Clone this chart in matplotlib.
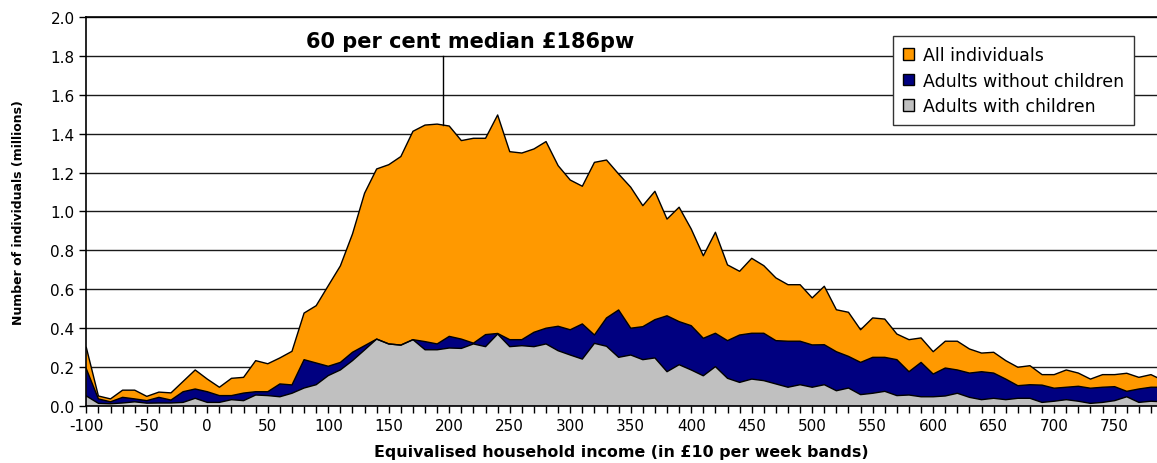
import numpy as np
import matplotlib
matplotlib.use("Agg")
import matplotlib.pyplot as plt
from matplotlib.patches import Patch

plt.rcParams['font.family'] = ['DejaVu Sans']
plt.rcParams['axes.unicode_minus'] = False

# Income bands (in £10 per week), -100 .. 790
bands = list(range(-100, 800, 10))

all_individuals = [
    0.30, 0.05, 0.035, 0.08, 0.08, 0.048, 0.07, 0.066, 0.125, 0.184,
    0.137, 0.095, 0.141, 0.146, 0.232, 0.216, 0.246, 0.28, 0.477, 0.515,
    0.618, 0.72, 0.884, 1.094, 1.219, 1.241, 1.283, 1.413, 1.445, 1.45,
    1.44, 1.365, 1.377, 1.377, 1.497, 1.308, 1.301, 1.322, 1.36, 1.236,
    1.162, 1.13, 1.253, 1.265, 1.193, 1.125, 1.03, 1.104, 0.961, 1.022,
    0.91, 0.772, 0.893, 0.725, 0.692, 0.759, 0.721, 0.658, 0.623, 0.623,
    0.555, 0.615, 0.494, 0.481, 0.391, 0.452, 0.446, 0.369, 0.34, 0.349,
    0.278, 0.332, 0.332, 0.292, 0.271, 0.275, 0.232, 0.198, 0.206, 0.16,
    0.16, 0.184, 0.168, 0.137, 0.16, 0.16, 0.167, 0.146, 0.16, 0.13,
]

adults_without_children = [
    0.19, 0.035, 0.02, 0.043, 0.035, 0.026, 0.043, 0.029, 0.072, 0.086,
    0.072, 0.052, 0.052, 0.065, 0.072, 0.072, 0.112, 0.107, 0.237, 0.22,
    0.203, 0.223, 0.275, 0.309, 0.343, 0.318, 0.312, 0.34, 0.33, 0.318,
    0.357, 0.343, 0.322, 0.366, 0.372, 0.34, 0.34, 0.378, 0.399, 0.409,
    0.391, 0.421, 0.364, 0.452, 0.493, 0.399, 0.407, 0.443, 0.463, 0.433,
    0.412, 0.347, 0.373, 0.335, 0.364, 0.373, 0.373, 0.335, 0.332, 0.332,
    0.313, 0.314, 0.278, 0.254, 0.223, 0.249, 0.249, 0.237, 0.175, 0.223,
    0.163, 0.194, 0.184, 0.168, 0.175, 0.168, 0.137, 0.103, 0.108, 0.106,
    0.09, 0.095, 0.1, 0.09, 0.095, 0.098, 0.074, 0.086, 0.095, 0.095,
]

adults_with_children = [
    0.05, 0.012, 0.01, 0.014, 0.02, 0.013, 0.014, 0.014, 0.017, 0.038,
    0.017, 0.017, 0.031, 0.026, 0.055, 0.052, 0.046, 0.064, 0.091, 0.108,
    0.155, 0.184, 0.232, 0.287, 0.343, 0.318, 0.312, 0.34, 0.288, 0.288,
    0.297, 0.295, 0.318, 0.304, 0.369, 0.304, 0.309, 0.304, 0.318, 0.283,
    0.261, 0.24, 0.321, 0.306, 0.249, 0.261, 0.237, 0.246, 0.175, 0.211,
    0.184, 0.154, 0.201, 0.141, 0.12, 0.137, 0.129, 0.112, 0.095, 0.108,
    0.095, 0.108, 0.077, 0.091, 0.057, 0.064, 0.074, 0.052, 0.055, 0.046,
    0.046, 0.05, 0.064, 0.043, 0.031, 0.038, 0.031, 0.038, 0.038, 0.017,
    0.023, 0.031, 0.023, 0.012, 0.017, 0.026, 0.046, 0.017, 0.023, 0.02,
]

series_labels = ["All individuals", "Adults without children", "Adults with children"]
series_colors = ["#FF9900", "#000080", "#C0C0C0"]

median_band = 195
median_label = "60 per cent median £186pw"

x = np.array(bands)
fig = plt.figure(figsize=(11.57, 4.64), dpi=100)
ax = fig.add_axes([0.0746, 0.1235, 0.9254, 0.8371])

for vals, col in zip([all_individuals, adults_without_children, adults_with_children], series_colors):
    ax.fill_between(x, 0, vals, facecolor=col, edgecolor='none', zorder=2)
    ax.plot(x, vals, color='black', lw=1.0, zorder=3)

ax.set_xlim(-100, 785)
ax.set_ylim(0, 2.0)
ax.set_yticks(np.arange(0, 2.01, 0.2))
ax.set_yticklabels([f"{v:.1f}" for v in np.arange(0, 2.01, 0.2)])
ax.set_xticks(np.arange(-100, 751, 50))
ax.set_xticks(np.arange(-100, 790, 10), minor=True)
ax.grid(axis='y', color='#1a1a1a', lw=1.0, zorder=1)
ax.set_axisbelow(True)

ax.tick_params(axis='both', which='both', direction='out', length=5, width=1, labelsize=11, color='black')
ax.tick_params(axis='x', which='minor', length=5)
ax.tick_params(axis='x', pad=4)

for s in ['top', 'right']:
    ax.spines[s].set_visible(False)
for s in ['left', 'bottom']:
    ax.spines[s].set_color('black')
    ax.spines[s].set_linewidth(1.2)
    ax.spines[s].set_zorder(5)
ax.axhline(2.0, color='black', lw=1.2, zorder=5, clip_on=False)

ax.set_xlabel("Equivalised household income (in £10 per week bands)", fontsize=11.4, fontweight='bold', labelpad=8)
ax.set_ylabel("Number of individuals (millions)", fontsize=9, fontweight='bold', labelpad=18)

y_med = np.interp(median_band, x, all_individuals)
ax.plot([median_band, median_band], [y_med, 1.8], color='black', lw=1.0, zorder=4)
ax.text(217, 1.878, median_label, ha='center', va='center', fontsize=15, fontweight='bold', zorder=6)

handles = [Patch(facecolor=c, edgecolor='black', lw=1.0) for c in series_colors]
leg = ax.legend(handles, series_labels, loc='upper left', bbox_to_anchor=(0.753, 0.952),
                borderaxespad=0, fontsize=12.5, handlelength=0.65, handleheight=0.65,
                handletextpad=0.5, labelspacing=0.42, borderpad=0.6,
                frameon=True, fancybox=False, edgecolor='#333333', framealpha=1)
leg.get_frame().set_linewidth(1.0)
leg.set_zorder(7)

fig.savefig("out.png", dpi=100)
